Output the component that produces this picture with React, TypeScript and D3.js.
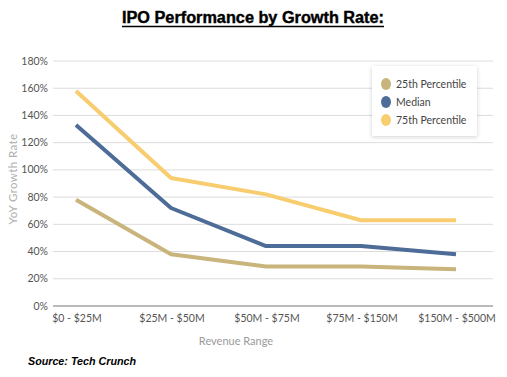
import React from "react";
import * as d3 from "d3";

const categories = ["$0 - $25M", "$25M - $50M", "$50M - $75M", "$75M - $150M", "$150M - $500M"];
const p25 = [78, 38, 29, 29, 27];
const median = [133, 72, 44, 44, 38];
const p75 = [158, 94, 82, 63, 63];
const yTicks = [0, 20, 40, 60, 80, 100, 120, 140, 160, 180];
const seriesNames = ["25th Percentile", "Median", "75th Percentile"];
const seriesColors = ["#C9B47C", "#4E6C98", "#F8CD6F"];

export default function App() {
  const W = 507, H = 377;
  const x = d3.scalePoint<string>().domain(categories).range([76, 456]);
  const y = d3.scaleLinear().domain([0, 180]).range([306, 61]);
  const line = d3.line<number>().x((_, i) => x(categories[i]) as number).y((d) => y(d));
  const series = [p25, median, p75];
  const font = "Lato, 'Open Sans', sans-serif";
  return (
    <svg width={W} height={H} style={{ position: "absolute", left: 0, top: 0, background: "#fff" }}>
      <defs>
        <filter id="sh" x="-20%" y="-20%" width="140%" height="140%">
          <feDropShadow dx="0" dy="1" stdDeviation="2" floodColor="#000" floodOpacity="0.18" />
        </filter>
      </defs>
      <text x={253} y={23} textAnchor="middle" fontFamily="'Liberation Sans', Arial, sans-serif" fontWeight="900" fontSize={16} textLength={262} lengthAdjust="spacingAndGlyphs" fill="#000" stroke="#000" strokeWidth={0.4}>
        IPO Performance by Growth Rate:
      </text>
      <line x1={122} x2={384} y1={26.5} y2={26.5} stroke="#000" strokeWidth={1.5} />
      {yTicks.map((t) => (
        <g key={t}>
          {t > 0 && <line x1={53} x2={493} y1={y(t)} y2={y(t)} stroke="#dcdcdc" strokeWidth={1} />}
          <text x={48} y={y(t) + 3.5} textAnchor="end" fontFamily={font} fontSize={10.5} fill="#555">{t}%</text>
        </g>
      ))}
      <line x1={53} x2={493} y1={y(0)} y2={y(0)} stroke="#777" strokeWidth={1.2} />
      {categories.map((c) => (
        <text key={c} x={(x(c) as number) + 1} y={322} textAnchor="middle" fontFamily={font} fontSize={10.5} fill="#555">{c}</text>
      ))}
      <text x={236} y={345} textAnchor="middle" fontFamily={font} fontSize={11} fill="#9a9a9a">Revenue Range</text>
      <text transform="translate(17,179) rotate(-90)" textAnchor="middle" fontFamily={font} fontSize={11.5} fill="#b0b0b0" letterSpacing={0.4}>YoY Growth Rate</text>
      {series.map((s, i) => (
        <path key={i} d={line(s) || ""} fill="none" stroke={seriesColors[i]} strokeWidth={4} strokeLinejoin="round" />
      ))}
      <rect x={372} y={66} width={105} height={70} fill="#fff" filter="url(#sh)" />
      {seriesNames.map((n, i) => (
        <g key={n}>
          <ellipse cx={386} cy={84 + i * 18} rx={5} ry={6} fill={seriesColors[i]} />
          <text x={396} y={88 + i * 18} fontFamily={font} fontSize={10.5} fill="#444">{n}</text>
        </g>
      ))}
      <text x={28} y={365} fontFamily="'Liberation Sans', Arial, sans-serif" fontWeight="bold" fontStyle="italic" fontSize={10} textLength={108} lengthAdjust="spacingAndGlyphs" fill="#000">
        Source:  Tech  Crunch
      </text>
    </svg>
  );
}
